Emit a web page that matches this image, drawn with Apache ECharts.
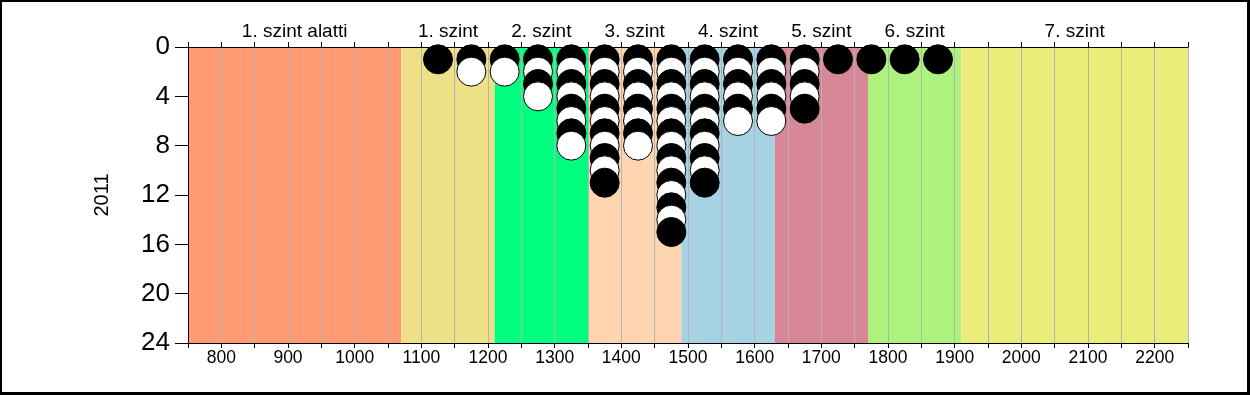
<!DOCTYPE html>
<html>
<head>
<meta charset="utf-8">
<script src="https://cdn.jsdelivr.net/npm/echarts@6/dist/echarts.min.js"></script>
<style>
html,body{margin:0;padding:0;background:#fff;}
#frame{position:absolute;left:0;top:0;width:1250px;height:395px;box-sizing:border-box;border-style:solid;border-color:#000;border-width:2px 3px 3px 2px;}
#chart{position:absolute;left:0;top:0;width:1250px;height:395px;}
</style>
</head>
<body>
<div id="chart"></div>
<div id="frame"></div>
<script>
// Level bands
const bandNames = ['1. szint alatti','1. szint','2. szint','3. szint','4. szint','5. szint','6. szint','7. szint'];
const bandEdges = [750,1070,1210,1350,1490,1630,1770,1910,2250];
const bandColors = ['#FF9B73','#EEE086','#00FF7F','#FDD5B1','#A6D2E3','#D78697','#ACF27C','#EBEC7A'];
// Score bins (centres) and number of students in each
const binCenters = [1125,1175,1225,1275,1325,1375,1425,1475,1525,1575,1625,1675,1725,1775,1825,1875];
const counts     = [1,   2,   2,   4,   8,   11,  8,   15,  11,  6,   6,   5,   1,   1,   1,   1];
// Axis ticks
const yTicks = [0,4,8,12,16,20,24];
const xLabelTicks = [800,900,1000,1100,1200,1300,1400,1500,1600,1700,1800,1900,2000,2100,2200];

const points = [];
binCenters.forEach((x, i) => {
  for (let k = 1; k <= counts[i]; k++) {
    points.push({
      value: [x, k],
      itemStyle: { color: k % 2 === 1 ? '#000000' : '#ffffff' }
    });
  }
});

const areas = bandNames.map((name, i) => [
  { name: name, xAxis: bandEdges[i], yAxis: 0, itemStyle: { color: bandColors[i], opacity: 1 } },
  { xAxis: bandEdges[i + 1], yAxis: 24 }
]);

const font = 'Liberation Sans, Arial, sans-serif';
const chart = echarts.init(document.getElementById('chart'), null, { renderer: 'canvas' });
chart.setOption({
  animation: false,
  backgroundColor: '#ffffff',
  grid: { left: 188, top: 47, width: 1000, height: 296, containLabel: false },
  xAxis: [{
    type: 'value', position: 'bottom', min: 750, max: 2250, interval: 50, z: 3,
    axisLine: { show: true, onZero: false, lineStyle: { color: '#000', width: 1 } },
    axisTick: { show: true, length: 5, lineStyle: { color: '#000' } },
    axisLabel: {
      margin: 6, fontSize: 17.5, color: '#000', fontFamily: font,
      formatter: v => xLabelTicks.indexOf(v) >= 0 ? String(v) : ''
    },
    splitLine: { show: true, lineStyle: { color: '#b4b4b4', width: 1 } }
  }, {
    type: 'value', position: 'top', min: 750, max: 2250, interval: 50, z: 3,
    axisLine: { show: true, onZero: false, lineStyle: { color: '#000', width: 1 } },
    axisTick: { show: true, length: 5, lineStyle: { color: '#000' } },
    axisLabel: { show: false },
    splitLine: { show: false }
  }],
  yAxis: {
    type: 'value', inverse: true, min: 0, max: 24, interval: 4, z: 3,
    name: '2011', nameLocation: 'middle', nameRotate: 90, nameGap: 76,
    nameTextStyle: { fontSize: 20, color: '#000', fontFamily: font },
    axisLine: { show: true, onZero: false, lineStyle: { color: '#000', width: 1 } },
    axisTick: { show: true, length: 13, lineStyle: { color: '#000' } },
    axisLabel: {
      margin: 18, fontSize: 26, color: '#000', fontFamily: font,
      formatter: v => yTicks.indexOf(v) >= 0 ? String(v) : ''
    },
    splitLine: { show: false }
  },
  series: [{
    type: 'scatter', z: 1, data: [], silent: true,
    markArea: {
      silent: true,
      label: { show: true, position: 'top', distance: 6, fontSize: 19, color: '#000', fontFamily: font },
      data: areas
    }
  }, {
    type: 'scatter', z: 5, symbol: 'circle', symbolSize: 29,
    itemStyle: { borderColor: '#000', borderWidth: 1, opacity: 1 },
    data: points
  }]
});
</script>
</body>
</html>
